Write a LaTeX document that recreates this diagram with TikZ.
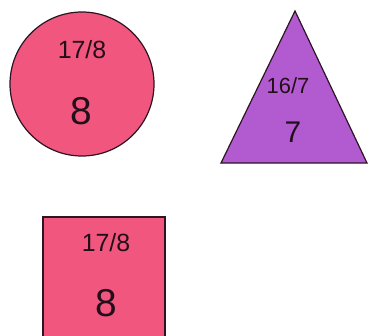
\documentclass[tikz,border=0pt]{standalone}
\usepackage{fontspec}
\setmainfont{Liberation Sans}
\definecolor{pinkfill}{RGB}{240,86,126}
\definecolor{purplefill}{RGB}{178,90,208}
\definecolor{edge}{RGB}{45,20,35}
\definecolor{txt}{RGB}{35,15,25}
\tikzset{
  shapeline/.style={draw=edge, line width=1.2bp},
  small/.style={text=txt, inner sep=0pt, font=\fontsize{25}{25}\selectfont},
  big/.style={text=txt, inner sep=0pt, font=\fontsize{39}{39}\selectfont},
}
\begin{document}
\begin{tikzpicture}[x=1bp,y=-1bp]
\useasboundingbox (0,0) rectangle (368,336);
\begin{scope}
\clip (0,0) rectangle (368,336);
% circle
\path[shapeline, fill=pinkfill] (82,84) circle (72);
% triangle
\path[shapeline, fill=purplefill] (221,163) -- (367,163) -- (295,11) -- cycle;
% square
\path[shapeline, fill=pinkfill] (43,217) rectangle (165,345);
\end{scope}
\node[small] (c1) at (82,50) {17/8};
\node[big] (c2) at (81,111) {8};
\node[small, font=\fontsize{22}{22}\selectfont] (t1) at (288,86) {16/7};
\node[big, font=\fontsize{30}{30}\selectfont] (t2) at (293,132) {7};
\node[small] (s1) at (106,243) {17/8};
\node[big] (s2) at (106,303) {8};
\end{tikzpicture}
\end{document}
